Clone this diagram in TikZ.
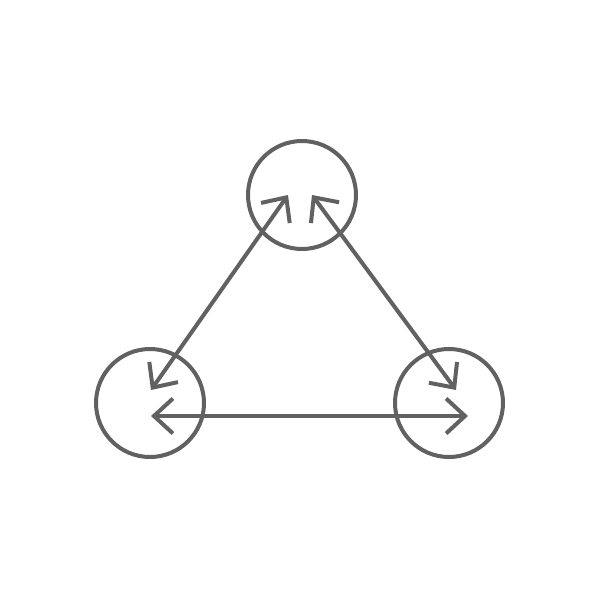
\documentclass[tikz,border=0pt]{standalone}
\usetikzlibrary{arrows.meta,calc}
\definecolor{ink}{HTML}{616161}
\begin{document}
\begin{tikzpicture}[x=1pt,y=-1pt,
  hub/.style={circle,draw=ink,line width=4pt,minimum size=108pt,inner sep=0pt},
  link/.style={draw=ink,line width=4pt,{Straight Barb[length=19pt,width=35pt]}-{Straight Barb[length=19pt,width=35pt]}}]
\useasboundingbox (0,0) rectangle (600,600);
\node[hub] (top) at (302,195) {};
\node[hub] (left) at (150,403) {};
\node[hub] (right) at (449,403) {};
\coordinate (tA) at ($(top)+(-14,0)$);
\coordinate (tB) at ($(top)+(10,0)$);
\coordinate (lA) at ($(left)+(1,-13)$);
\coordinate (lH) at ($(left)+(1,13)$);
\coordinate (rB) at ($(right)+(7,-13)$);
\coordinate (rH) at ($(right)+(19,13)$);
\draw[link] (lA) -- (tA);
\draw[link] (tB) -- (rB);
\draw[link] (lH) -- (rH);
\end{tikzpicture}
\end{document}
